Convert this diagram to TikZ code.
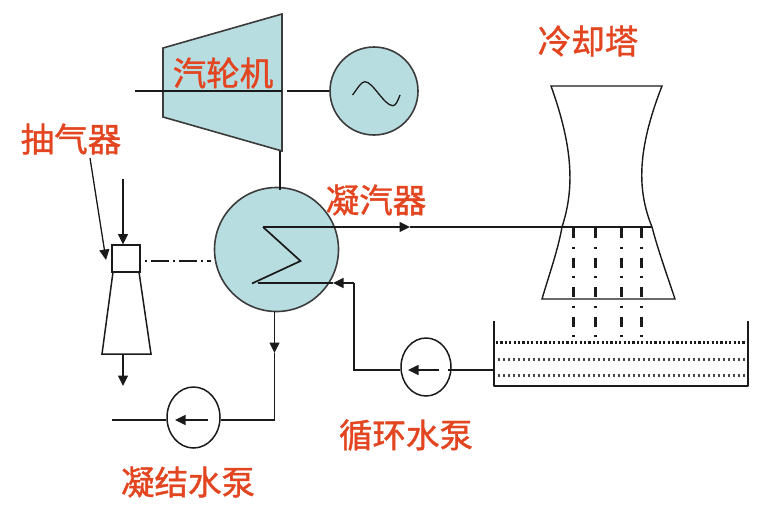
\documentclass[tikz,border=0pt]{standalone}
\usepackage{fontspec}
\setmainfont{Noto Sans CJK SC}
\newfontfamily\labfont[AutoFakeBold=1.2]{Noto Sans CJK SC}
\usetikzlibrary{arrows.meta,shapes.geometric}
\definecolor{pale}{HTML}{B7DDE1}
\definecolor{lab}{HTML}{E2451F}
\definecolor{ink}{HTML}{1A1A1A}
\tikzset{
  ln/.style={draw=ink,line width=1.7pt},
  arr/.style={ln,-{Triangle[length=10.5pt,width=10pt]}},
  eqp/.style={draw=ink!85!white,line width=1.6pt,fill=pale,line join=miter},
  pumpb/.style={ellipse,draw=ink,line width=1.5pt,fill=white,inner sep=0pt},
  txt/.style={text=lab,font=\labfont\fontsize{33.5}{33.5}\selectfont\bfseries,inner sep=0pt},
  spray/.style={draw=ink,line width=3pt,dash pattern=on 10pt off 8.5pt on 2pt off 9pt},
  dotl/.style={draw=ink,line width=2.4pt,dash pattern=on 2.2pt off 2.2pt},
  dotm/.style={draw=ink!80!white,line width=2.4pt,dash pattern=on 2pt off 3pt},
}
\begin{document}
\begin{tikzpicture}[x=1pt,y=-1pt]
\useasboundingbox (0,0) rectangle (762,506);
% turbine
\coordinate (tA) at (163,48); \coordinate (tB) at (282,14);
\coordinate (tC) at (282,151); \coordinate (tD) at (163,117);
\filldraw[eqp] (tA)--(tB)--(tC)--(tD)--cycle;
\node[circle,eqp,minimum size=88pt,inner sep=0pt] (gen) at (374,91) {};
\node[txt] (lb1) at (223,73) {汽轮机};
\coordinate (shaftL) at (135,91); \coordinate (shaftM) at (282,91); \coordinate (shaftG) at (287,91);
\draw[ln] (shaftL) -- (shaftM);
\draw[ln] (shaftG) -- (gen.west);
\draw[ln,line width=1.3pt] (352.5,95) .. controls (358,88) and (361,81.7) .. (365,81.7) .. controls (373,81.7) and (384,105.7) .. (393,105.7) .. controls (396,105.7) and (398,100) .. (400,95);
% condenser
\node[circle,eqp,minimum size=124pt,inner sep=0pt] (cond) at (276.5,249.5) {};
\coordinate (tbot) at (280,151); \coordinate (cTop) at (280,189.5);
\draw[ln] (tbot) -- (cTop);
\coordinate (c1) at (263,227); \coordinate (c2) at (300.5,261); \coordinate (c3) at (252,283.5);
\coordinate (c4) at (258,283);
\draw[ln,line join=miter] (c1) -- (c2) -- (c3);
% hot water to tower
\coordinate (hotM) at (410,227); \coordinate (hotE) at (652,227);
\draw[arr] (c1) -- (hotM);
\draw[ln] (hotM) -- (hotE);
% cold water return
\coordinate (cold) at (354,283); \coordinate (coldM) at (333,283); \coordinate (coldD) at (354,370);
\node[pumpb,minimum width=50pt,minimum height=58pt] (pumpA) at (426,367) {};
\draw[arr] (cold) -- (coldM);
\draw[ln] (coldM) -- (c4);
\draw[ln] (pumpA.west |- coldD) -- (coldD) -- (cold);
\coordinate (pAi) at (439,370); \coordinate (pAo) at (408,370);
\draw[arr] (pAi) -- (pAo);
\coordinate (pAr) at (448,370); \coordinate (basinL) at (494,370);
\draw[draw=ink,line width=2.8pt] (pAr) -- (basinL);
% condensate
\coordinate (cbot) at (274.5,311); \coordinate (cm) at (274.5,353); \coordinate (cc) at (274.5,420);
\node[pumpb,minimum width=53pt,minimum height=61pt] (pumpB) at (193.5,417.5) {};
\draw[arr] (cbot) -- (cm);
\draw[ln] (cm) -- (cc) -- (pumpB.east |- cc);
\coordinate (outB) at (112,420);
\draw[ln] (pumpB.west |- outB) -- (outB);
\coordinate (pBi) at (208,420); \coordinate (pBo) at (175,420);
\draw[arr] (pBi) -- (pBo);
% ejector
\node[draw=ink,line width=1.5pt,minimum width=28pt,minimum height=27pt,inner sep=0pt] (ej) at (126,258.5) {};
\coordinate (e1) at (113,272); \coordinate (e2) at (139,272); \coordinate (e3) at (151,354); \coordinate (e4) at (102,354);
\draw[ln,line width=1.5pt] (e1)--(e4)--(e3)--(e2);
\coordinate (inTop) at (123,179); \coordinate (inBot) at (123,244.5);
\draw[arr] (inTop) -- (inBot);
\coordinate (ejOut) at (123,354); \coordinate (ejEnd) at (123,386);
\draw[arr] (ejOut) -- (ejEnd);
\coordinate (ptA) at (90,158); \coordinate (ptB) at (106,260);
\draw[ln,line width=1.3pt,-{Triangle[length=10.5pt,width=10pt]}] (ptA) -- (ptB);
\coordinate (dd) at (145,261); \coordinate (dde) at (211,261);
\draw[ln,line width=1.3pt,dash pattern=on 2pt off 4pt on 18pt off 4pt] (dd) -- (dde);
% tower
\coordinate (twA) at (551,86); \coordinate (twB) at (662,86);
\coordinate (twL) at (562,227); \coordinate (twR) at (652,227);
\coordinate (twC) at (675,299); \coordinate (twD) at (542,299);
\draw[ln,line width=1.4pt,line join=miter] (twD) .. controls (549,275) and (558,250) .. (twL)
  .. controls (574,190) and (574,150) .. (twA) -- (twB)
  .. controls (637,150) and (637,190) .. (twR)
  .. controls (658,250) and (667,275) .. (twC) -- cycle;
% basin
\coordinate (bTL) at (494,321); \coordinate (bBL) at (494,386); \coordinate (bBR) at (748,386); \coordinate (bTR) at (748,321);
\draw[draw=ink,line width=2.8pt,line join=round] (bTL)--(bBL)--(bBR)--(bTR);
\draw[dotl] (496,342.5) -- (747,342.5);
\foreach \yy in {359.5,375.5} {
  \draw[dotm] (498,\yy) -- (747,\yy);
}
% spray
\foreach \xx in {573,595,621,641} {
  \draw[spray] (\xx,228) -- (\xx,338);
}
% labels
\node[txt] (lb2) at (588,41) {冷却塔};
\node[txt] (lb3) at (71,139) {抽气器};
\node[txt] (lb4) at (376,200) {凝汽器};
\node[txt] (lb5) at (406,435) {循环水泵};
\node[txt] (lb6) at (188,482) {凝结水泵};
\end{tikzpicture}
\end{document}
